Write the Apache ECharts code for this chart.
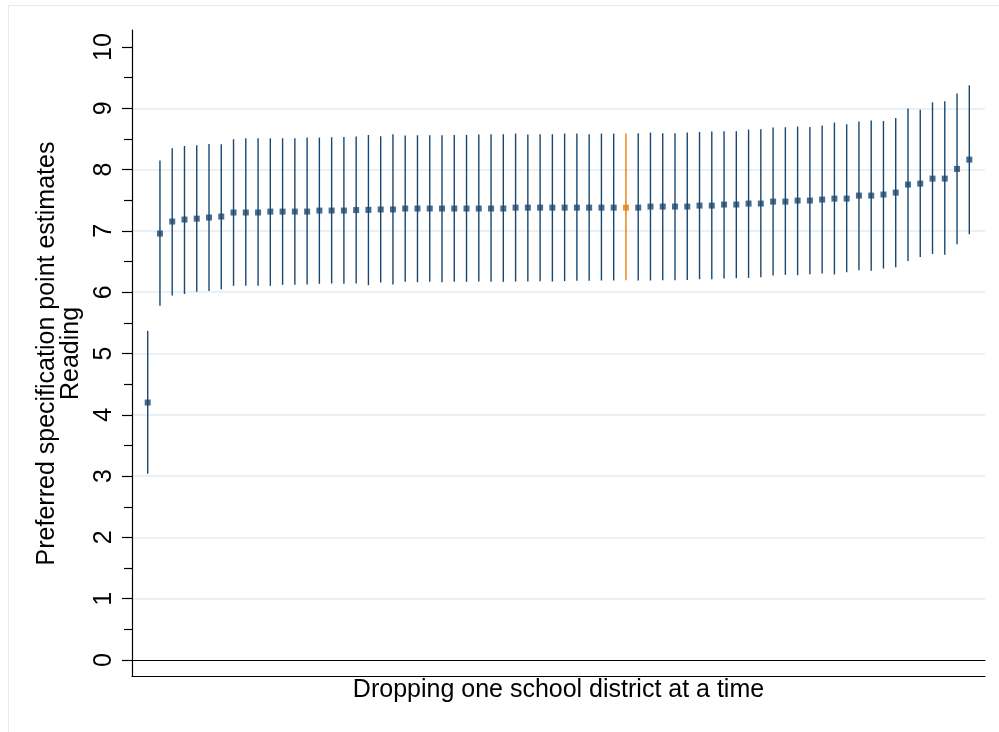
<!DOCTYPE html>
<html>
<head>
<meta charset="utf-8">
<script src="https://cdn.jsdelivr.net/npm/echarts@6/dist/echarts.min.js"></script>
<style>
  html, body { margin: 0; padding: 0; background: #ffffff; }
  #chart { width: 999px; height: 732px; }
</style>
</head>
<body>
<div id="chart"></div>
<script>
// Leave-one-out estimates, sorted, with 95% confidence bounds
const estimates = [
  4.20, 6.957, 7.153, 7.185, 7.200, 7.218, 7.234, 7.300, 7.300, 7.300,
  7.315, 7.315, 7.315, 7.315, 7.332, 7.332, 7.332, 7.340, 7.343, 7.350,
  7.350, 7.365, 7.365, 7.365, 7.365, 7.365, 7.365, 7.365, 7.365, 7.365,
  7.380, 7.380, 7.380, 7.380, 7.380, 7.380, 7.380, 7.380, 7.380, 7.380,
  7.380, 7.397, 7.397, 7.397, 7.397, 7.413, 7.413, 7.430, 7.430, 7.446,
  7.446, 7.478, 7.478, 7.495, 7.495, 7.511, 7.527, 7.527, 7.576, 7.576,
  7.593, 7.625, 7.756, 7.772, 7.853, 7.853, 8.011, 8.163
];
const lowerCI = [
  3.04, 5.777, 5.946, 5.970, 6.006, 6.020, 6.050, 6.104, 6.104, 6.104,
  6.104, 6.120, 6.120, 6.125, 6.136, 6.142, 6.136, 6.142, 6.114, 6.158,
  6.125, 6.169, 6.163, 6.169, 6.163, 6.169, 6.169, 6.174, 6.169, 6.169,
  6.174, 6.174, 6.180, 6.174, 6.180, 6.185, 6.185, 6.191, 6.191, 6.196,
  6.191, 6.191, 6.196, 6.196, 6.201, 6.212, 6.212, 6.223, 6.229, 6.234,
  6.245, 6.272, 6.283, 6.278, 6.294, 6.305, 6.289, 6.326, 6.359, 6.348,
  6.386, 6.408, 6.511, 6.576, 6.625, 6.609, 6.783, 6.946
];
const upperCI = [
  5.37, 8.148, 8.348, 8.386, 8.397, 8.418, 8.413, 8.495, 8.511, 8.511,
  8.511, 8.511, 8.511, 8.523, 8.523, 8.528, 8.532, 8.539, 8.565, 8.544,
  8.577, 8.555, 8.560, 8.560, 8.560, 8.566, 8.566, 8.571, 8.577, 8.577,
  8.588, 8.571, 8.577, 8.577, 8.588, 8.588, 8.577, 8.588, 8.588, 8.588,
  8.593, 8.604, 8.593, 8.593, 8.604, 8.615, 8.620, 8.626, 8.626, 8.653,
  8.658, 8.685, 8.691, 8.702, 8.696, 8.718, 8.767, 8.740, 8.783, 8.800,
  8.794, 8.843, 8.995, 8.978, 9.098, 9.115, 9.240, 9.375
];
// Position of the full-sample (preferred) estimate in the sorted list
const preferredIndex = 39;

const yTicks = { min: 0, max: 10, step: 1 };
const yTitle = 'Preferred specification point estimates\nReading';
const xTitle = 'Dropping one school district at a time';

const NAVY = '#1a476f';
const ORANGE = '#e57e0c';
const FONT = 'Liberation Sans, Arial, sans-serif';

const n = estimates.length;
const pointData = estimates.map((v, i) => {
  const item = { value: [i, v] };
  if (i === preferredIndex) item.itemStyle = { color: ORANGE };
  return item;
});
const barData = estimates.map((v, i) => [i, lowerCI[i], upperCI[i]]);

const chart = echarts.init(document.getElementById('chart'), null, { renderer: 'canvas' });

chart.setOption({
  animation: false,
  backgroundColor: '#ffffff',
  graphic: [{
    type: 'rect', z: -10, silent: true,
    shape: { x: 8.5, y: 5.5, width: 1000, height: 800 },
    style: { fill: 'none', stroke: '#e4ebef', lineWidth: 1 }
  }],
  grid: [
    // plotting grid: 0..10
    { left: 132, right: 14, top: 47, bottom: 72, containLabel: false },
    // frame grid: outer axis lines
    { left: 132, right: 14, top: 30, bottom: 56, containLabel: false }
  ],
  xAxis: [
    {
      gridIndex: 0, type: 'value', min: -1.28, max: n - 1 + 1.28,
      axisLine: { show: true, onZero: false, lineStyle: { color: '#000', width: 1.2 } },
      axisTick: { show: false }, axisLabel: { show: false }, splitLine: { show: false }
    },
    {
      gridIndex: 1, type: 'value', min: 0, max: 1,
      axisLine: { show: true, onZero: false, lineStyle: { color: '#000', width: 1.2 } },
      axisTick: { show: false }, axisLabel: { show: false }, splitLine: { show: false },
      name: xTitle, nameLocation: 'middle', nameGap: 2,
      nameTextStyle: { fontFamily: FONT, fontSize: 25, color: '#000' }
    }
  ],
  yAxis: [
    {
      gridIndex: 0, type: 'value', min: yTicks.min, max: yTicks.max, interval: yTicks.step,
      axisLine: { show: false, onZero: false },
      axisTick: { show: true, length: 10, lineStyle: { color: '#000', width: 1.2 } },
      minorTick: { show: true, splitNumber: 2, length: 8, lineStyle: { color: '#000', width: 1.2 } },
      axisLabel: { show: true, rotate: 90, margin: 15, fontFamily: FONT, fontSize: 25, color: '#000' },
      splitLine: { show: true, showMinLine: false, showMaxLine: false,
                   lineStyle: { color: '#e3ebef', width: 1.6 } },
      name: yTitle, nameLocation: 'middle', nameGap: 47, nameRotate: 90,
      nameTextStyle: { fontFamily: FONT, fontSize: 25, color: '#000', lineHeight: 24, align: 'center' }
    },
    {
      gridIndex: 1, type: 'value', min: 0, max: 1,
      axisLine: { show: true, onZero: false, lineStyle: { color: '#000', width: 1.2 } },
      axisTick: { show: false }, axisLabel: { show: false }, splitLine: { show: false }
    }
  ],
  series: [
    {
      type: 'custom', xAxisIndex: 0, yAxisIndex: 0, z: 2,
      data: barData,
      renderItem: function (params, api) {
        const i = api.value(0);
        const lo = api.coord([i, api.value(1)]);
        const hi = api.coord([i, api.value(2)]);
        return {
          type: 'line',
          shape: { x1: lo[0], y1: lo[1], x2: hi[0], y2: hi[1] },
          style: { stroke: i === preferredIndex ? ORANGE : NAVY, lineWidth: 1.4 }
        };
      }
    },
    {
      type: 'scatter', xAxisIndex: 0, yAxisIndex: 0, z: 3,
      symbol: 'rect', symbolSize: 6,
      itemStyle: { color: NAVY },
      data: pointData
    }
  ]
});
</script>
</body>
</html>
